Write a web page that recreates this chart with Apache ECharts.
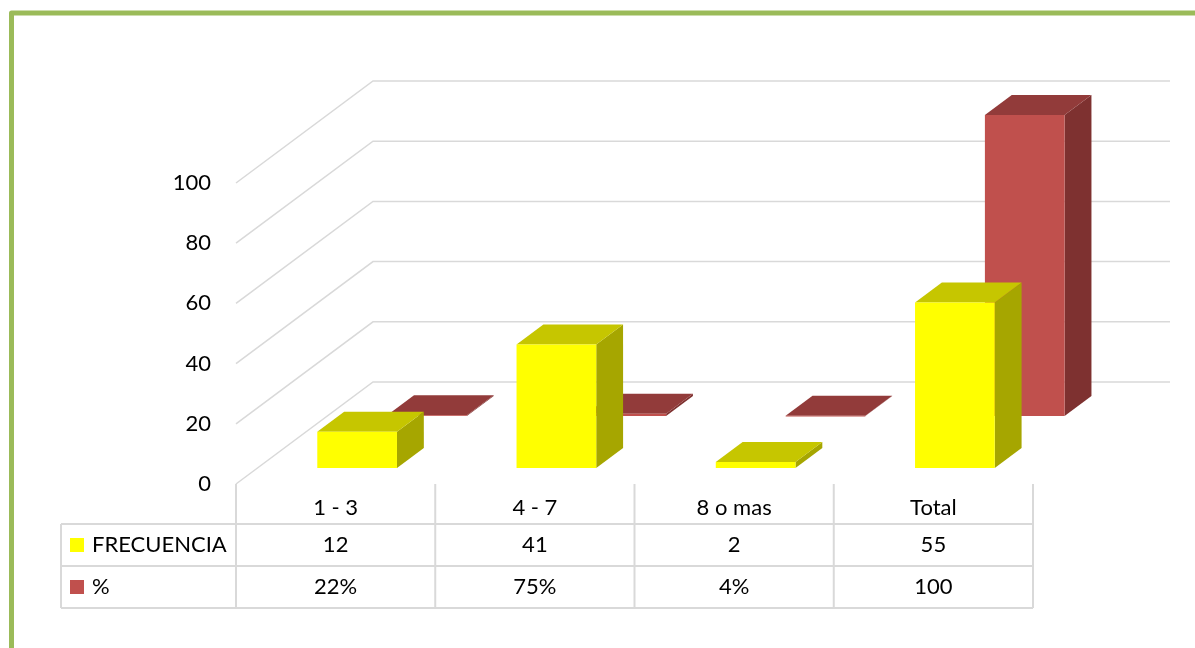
<!DOCTYPE html>
<html>
<head>
<meta charset="utf-8">
<script src="https://cdn.jsdelivr.net/npm/echarts@6/dist/echarts.min.js"></script>
<style>
html,body{margin:0;padding:0;background:#fff;}
#c{width:1195px;height:648px;}
</style>
</head>
<body>
<div id="c"></div>
<script>
// ---- data ----
const categories = ['1 - 3', '4 - 7', '8 o mas', 'Total'];
const seriesNames = ['FRECUENCIA', '%'];
const frecuencia = [12, 41, 2, 55];
const porcentaje = [0.22, 0.75, 0.04, 100];
const porcentajeLabels = ['22%', '75%', '4%', '100'];
const yTicks = [0, 20, 40, 60, 80, 100];

// ---- style / geometry ----
const FONT = 'Lato';
const DX = 137, DY = -102;          // full floor depth vector
const YEL_FRONT = 0.157, RED_FRONT = 0.667, BAR_DEPTH = 0.196;
const BAR_W = 0.4;
const GRID_COLOR = '#d9d9d9';
const YEL = { front: '#FFFF00', top: '#C6C600', side: '#A6A600' };
const RED = { front: '#C0504D', top: '#923B3A', side: '#7E3130' };
const ROW_H = [40, 42, 42];
const TABLE_LEFT = 61;

function bar3d(api, frac, col) {
  const i = api.value(0), v = api.value(1);
  const base = api.coord([i, 0]);
  const top = api.coord([i, v]);
  const w = api.size([1, 0])[0] * BAR_W;
  const ox = DX * frac, oy = DY * frac;
  const dx = DX * BAR_DEPTH, dy = DY * BAR_DEPTH;
  const x0 = base[0] - w / 2 + ox, x1 = x0 + w;
  const yb = base[1] + oy, yt = top[1] + oy;
  return {
    type: 'group',
    children: [
      { type: 'polygon', shape: { points: [[x1, yt], [x1, yb], [x1 + dx, yb + dy], [x1 + dx, yt + dy]] }, style: { fill: col.side } },
      { type: 'polygon', shape: { points: [[x0, yt], [x1, yt], [x1 + dx, yt + dy], [x0 + dx, yt + dy]] }, style: { fill: col.top } },
      { type: 'rect', shape: { x: x0, y: yt, width: w, height: Math.max(yb - yt, 0.6) }, style: { fill: col.front } }
    ]
  };
}

const chart = echarts.init(document.getElementById('c'), null, { renderer: 'canvas' });

const option = {
  animation: false,
  backgroundColor: '#fff',
  textStyle: { fontFamily: FONT },
  grid: { left: 236, right: 162, top: 183, bottom: 164, containLabel: false },
  xAxis: {
    type: 'category',
    data: categories,
    axisLine: { show: false },
    axisTick: { show: false },
    splitLine: { show: false },
    axisLabel: { fontSize: 22, color: '#000', margin: 13, fontFamily: FONT }
  },
  yAxis: {
    type: 'value',
    min: 0, max: 100, interval: 20,
    axisLine: { show: false },
    axisTick: { show: false },
    splitLine: { show: false },
    axisLabel: { fontSize: 22, color: '#000', margin: 25, fontFamily: FONT }
  },
  graphic: [
    { type: 'polyline', shape: { points: [[11.5, 660], [11.5, 13], [1210, 13]] },
      style: { stroke: '#9BBB59', lineWidth: 5, lineJoin: 'round', fill: null }, z: 100 }
  ],
  series: [
    {
      type: 'custom', name: 'grid3d', silent: true,
      data: yTicks.map(v => [0, v]),
      renderItem: function (params, api) {
        const cs = params.coordSys;
        const y = api.coord([0, api.value(1)])[1];
        const x0 = cs.x, x1 = cs.x + cs.width;
        return {
          type: 'polyline',
          shape: { points: [[x0, y], [x0 + DX, y + DY], [x1 + DX, y + DY]] },
          style: { stroke: GRID_COLOR, lineWidth: 1.5, fill: null }
        };
      },
      z: 1
    },
    {
      type: 'custom', name: seriesNames[1],
      data: porcentaje.map((v, i) => [i, v]),
      renderItem: function (params, api) { return bar3d(api, RED_FRONT, RED); },
      z: 2
    },
    {
      type: 'custom', name: seriesNames[0],
      data: frecuencia.map((v, i) => [i, v]),
      renderItem: function (params, api) { return bar3d(api, YEL_FRONT, YEL); },
      z: 3
    },
    {
      type: 'custom', name: 'table', silent: true,
      data: categories.map((c, i) => [i, 0]),
      renderItem: function (params, api) {
        const cs = params.coordSys;
        const i = api.value(0);
        const cx = api.coord([i, 0])[0];
        const cw = api.size([1, 0])[0];
        const y0 = cs.y + cs.height;
        const y1 = y0 + ROW_H[0], y2 = y1 + ROW_H[1], y3 = y2 + ROW_H[2];
        const lineStyle = { stroke: GRID_COLOR, lineWidth: 2 };
        const txt = (t, x, y, align) => ({
          type: 'text',
          style: { text: t, x: x, y: y, align: align || 'center', verticalAlign: 'middle',
                   fontSize: 22, fontFamily: FONT, fill: '#000' }
        });
        const children = [
          { type: 'line', shape: { x1: cx + cw / 2, y1: y0, x2: cx + cw / 2, y2: y3 }, style: lineStyle },
          txt(String(frecuencia[i]), cx, (y1 + y2) / 2),
          txt(porcentajeLabels[i], cx, (y2 + y3) / 2)
        ];
        if (i === 0) {
          const xl = cx - cw / 2, xr = cs.x + cs.width;
          children.push(
            { type: 'line', shape: { x1: xl, y1: y0, x2: xl, y2: y3 }, style: lineStyle },
            { type: 'line', shape: { x1: TABLE_LEFT, y1: y1, x2: TABLE_LEFT, y2: y3 }, style: lineStyle },
            { type: 'line', shape: { x1: TABLE_LEFT, y1: y1, x2: xr, y2: y1 }, style: lineStyle },
            { type: 'line', shape: { x1: TABLE_LEFT, y1: y2, x2: xr, y2: y2 }, style: lineStyle },
            { type: 'line', shape: { x1: TABLE_LEFT, y1: y3, x2: xr, y2: y3 }, style: lineStyle },
            { type: 'rect', shape: { x: TABLE_LEFT + 9, y: (y1 + y2) / 2 - 7, width: 14, height: 14 }, style: { fill: YEL.front } },
            { type: 'rect', shape: { x: TABLE_LEFT + 9, y: (y2 + y3) / 2 - 7, width: 14, height: 14 }, style: { fill: RED.front } },
            txt(seriesNames[0], TABLE_LEFT + 31, (y1 + y2) / 2, 'left'),
            txt(seriesNames[1], TABLE_LEFT + 31, (y2 + y3) / 2, 'left')
          );
        }
        return { type: 'group', children: children };
      },
      z: 4
    }
  ]
};
chart.setOption(option);
</script>
</body>
</html>
